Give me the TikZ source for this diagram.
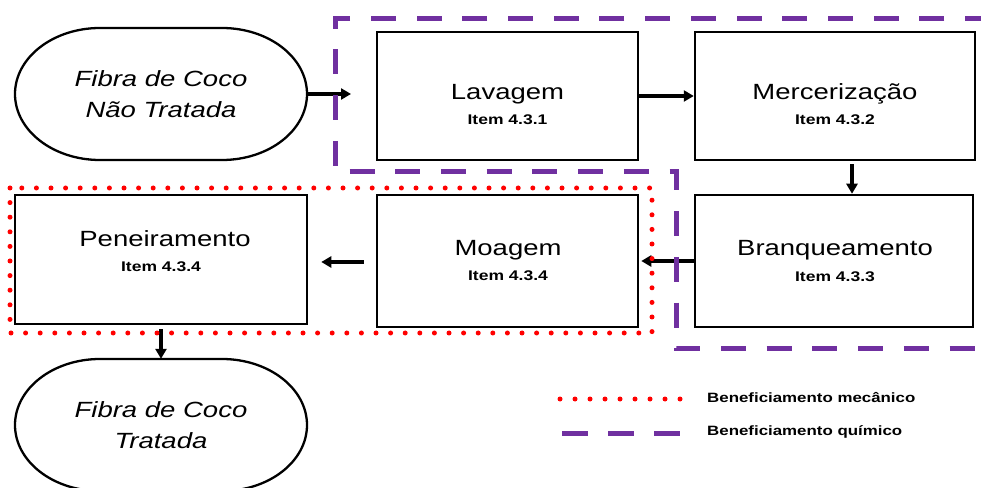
\documentclass[tikz,border=0pt]{standalone}
\usepackage{fontspec}
\setmainfont{Liberation Sans}[FakeStretch=1.25]
\usetikzlibrary{arrows.meta}
\definecolor{chempurple}{HTML}{7030A0}
\begin{document}
\begin{tikzpicture}[x=1pt,y=1pt,
  procbox/.style={draw=black, line width=2.5pt, inner sep=0pt},
  stad/.style={inner sep=0pt, minimum width=292pt, minimum height=132pt},
  stadline/.style={draw=black, line width=2.3pt},
  maintxt/.style={font=\fontsize{22}{24}\selectfont, inner sep=0pt},
  itemtxt/.style={font=\bfseries\fontsize{14}{16}\selectfont, inner sep=0pt},
  stxt/.style={font=\itshape\fontsize{22}{31.5}\selectfont, align=center, inner sep=0pt},
  legtxt/.style={font=\bfseries\fontsize{13.5}{15}\selectfont, inner sep=0pt, anchor=west},
  arr/.style={line width=3.2pt, -{Triangle[length=10pt,width=11pt]}},
  chem/.style={draw=chempurple, line width=5pt, dash pattern=on 25pt off 20.7pt},
  mech/.style={draw=red, line width=5pt, line cap=round, dash pattern=on 0pt off 14.6pt}]
\useasboundingbox (0,0) rectangle (981,487);

% start / end terminals
\node[stad] (start) at (161,393) {};
\draw[stadline] (100,459) -- (222,459) arc[start angle=90,end angle=-90,x radius=85pt,y radius=66pt]
  -- (100,327) arc[start angle=270,end angle=90,x radius=85pt,y radius=66pt] -- cycle;
\node[stxt] (starttxt) at (start.center) {Fibra de Coco\\Não Tratada};

\node[stad] (final) at (161,62) {};
\draw[stadline] (100,128) -- (222,128) arc[start angle=90,end angle=-90,x radius=85pt,y radius=66pt]
  -- (100,-4) arc[start angle=270,end angle=90,x radius=85pt,y radius=66pt] -- cycle;
\node[stxt] (finaltxt) at (161,62) {Fibra de Coco\\Tratada};

% process boxes
\node[procbox, minimum width=261pt, minimum height=128pt] (lav) at (507.5,391) {};
\node[maintxt] (lavt) at (507.5,393) {Lavagem};
\node[itemtxt] (lavi) at (507.5,367) {Item 4.3.1};

\node[procbox, minimum width=280pt, minimum height=128pt] (merc) at (835,391) {};
\node[maintxt] (merct) at (835,393) {Mercerização};
\node[itemtxt] (merci) at (835,367) {Item 4.3.2};

\node[procbox, minimum width=278pt, minimum height=132pt] (bran) at (834,226) {};
\node[maintxt] (brant) at (835,237) {Branqueamento};
\node[itemtxt] (brani) at (835,210) {Item 4.3.3};

\node[procbox, minimum width=261pt, minimum height=132pt] (moag) at (507.5,226) {};
\node[maintxt] (moagt) at (508,237) {Moagem};
\node[itemtxt] (moagi) at (508,211) {Item 4.3.4};

\node[procbox, minimum width=292pt, minimum height=129pt] (pen) at (161,227.5) {};
\node[maintxt] (pent) at (165,248) {Peneiramento};
\node[itemtxt] (peni) at (161,220) {Item 4.3.4};

% connectors
\coordinate (a1end) at (351,393);
\draw[arr] (start.east) -- (a1end);
\draw[arr] (lav.east) -- (merc.west);
\draw[arr] ([xshift=17pt,yshift=-3pt]merc.south) -- ([xshift=18pt]bran.north);
\draw[arr] (bran.west) -- ([xshift=2pt]moag.east);
\draw[arr] ([xshift=-12pt,yshift=-1pt]moag.west) -- ([xshift=13pt,yshift=-1pt]pen.east |- moag.west);
\draw[arr] ([yshift=-4pt]pen.south) -- (final.north);

% groups
\draw[chem] (990,468) -- (335,468) -- (335,315) -- (676,315) -- (676,138) -- (990,138);
\draw[mech] (10,299) rectangle (652,154);

% legend
\coordinate (lm1) at (560,88);
\coordinate (lm2) at (680,88);
\draw[mech, dash pattern=on 0pt off 15pt] (lm1) -- (lm2);
\node[legtxt] (lt1) at (707,89) {Beneficiamento mecânico};
\coordinate (lc1) at (562,54);
\coordinate (lc2) at (680,54);
\draw[chem, dash pattern=on 26pt off 20pt] (lc1) -- (lc2);
\node[legtxt] (lt2) at (707,55) {Beneficiamento químico};
\end{tikzpicture}
\end{document}
